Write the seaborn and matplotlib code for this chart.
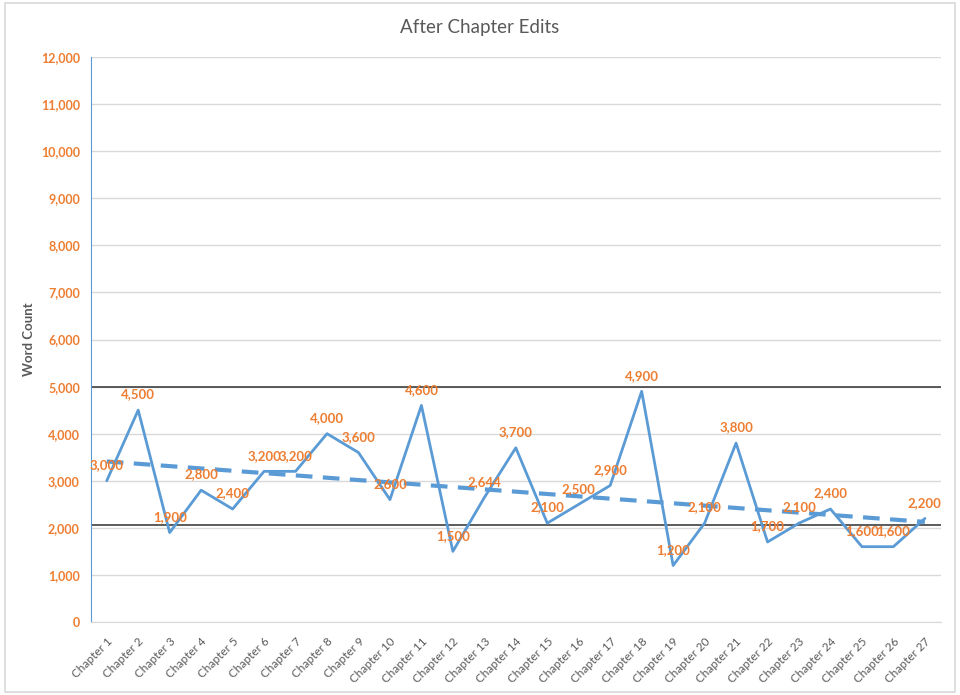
import matplotlib
matplotlib.use('Agg')
import matplotlib.pyplot as plt
import numpy as np
import pandas as pd
import seaborn as sns

# Data
chapters = [f'Chapter {i}' for i in range(1, 28)]
word_counts = [3000, 4500, 1900, 2800, 2400, 3200, 3200, 4000, 3600, 2600,
               4600, 1500, 2644, 3700, 2100, 2500, 2900, 4900, 1200, 2100,
               3800, 1700, 2100, 2400, 1600, 1600, 2200]
upper_limit = 5000
lower_limit = 2050
y_ticks = list(range(0, 12001, 1000))

df = pd.DataFrame({'chapter': chapters, 'words': word_counts})
df['pos'] = range(len(df))

# Linear trendline (as Excel would draw it)
slope, intercept = np.polyfit(df['pos'], df['words'], 1)
df['trend'] = intercept + slope * df['pos']

sns.set_style('white')
plt.rcParams['font.family'] = ['Lato', 'DejaVu Sans']

blue = '#5B9BD5'
orange = '#ED7D31'
grey_text = '#595959'

fig = plt.figure(figsize=(9.6, 6.95), dpi=100)
ax = fig.add_axes([0.0948, 0.105, 0.885, 0.813])

ax.set_yticks(y_ticks)
ax.yaxis.grid(True, color='#D9D9D9', linewidth=1)
ax.set_axisbelow(True)

ax.axhline(upper_limit, color='#404040', linewidth=1.2, zorder=1.5)
ax.axhline(lower_limit, color='#404040', linewidth=1.2, zorder=1.5)

sns.lineplot(data=df, x='pos', y='words', color=blue, linewidth=2, ax=ax, zorder=3)
sns.lineplot(data=df, x='pos', y='trend', color=blue, linewidth=3,
             linestyle=(0, (4, 2.5)), ax=ax, zorder=2.5)

for x, y in zip(df['pos'], df['words']):
    ax.annotate(f'{y:,}', (x, y), xytext=(0, 7), textcoords='offset points',
                ha='center', va='bottom', color=orange, fontsize=9.5,
                fontweight='bold', zorder=4)

ax.set_xlim(-0.5, len(chapters) - 0.5)
ax.set_ylim(0, 12000)
ax.set_xticks(df['pos'])
ax.set_xticklabels(chapters, rotation=45, ha='right', rotation_mode='anchor',
                   fontsize=8.5, color=grey_text)
ax.set_yticklabels([f'{v:,}' for v in y_ticks], fontsize=9,
                   color=orange, fontweight='bold')
ax.tick_params(axis='y', length=0, pad=8)
ax.tick_params(axis='x', length=0, pad=10)

ax.set_xlabel('')
ax.set_ylabel('Word Count', fontsize=9.5, fontweight='bold', color=grey_text, labelpad=4)
fig.text(0.5, 0.96, 'After Chapter Edits', ha='center', va='center',
         fontsize=13.5, color=grey_text)

for side in ['top', 'right']:
    ax.spines[side].set_visible(False)
ax.spines['left'].set_color(blue)
ax.spines['bottom'].set_color('#D9D9D9')

# Light border around the chart area
border = plt.Rectangle((0.005, 0.005), 0.99, 0.99, transform=fig.transFigure,
                       fill=False, edgecolor='#D9D9D9', linewidth=1.2)
fig.patches.append(border)

fig.savefig('out.png', dpi=100)
